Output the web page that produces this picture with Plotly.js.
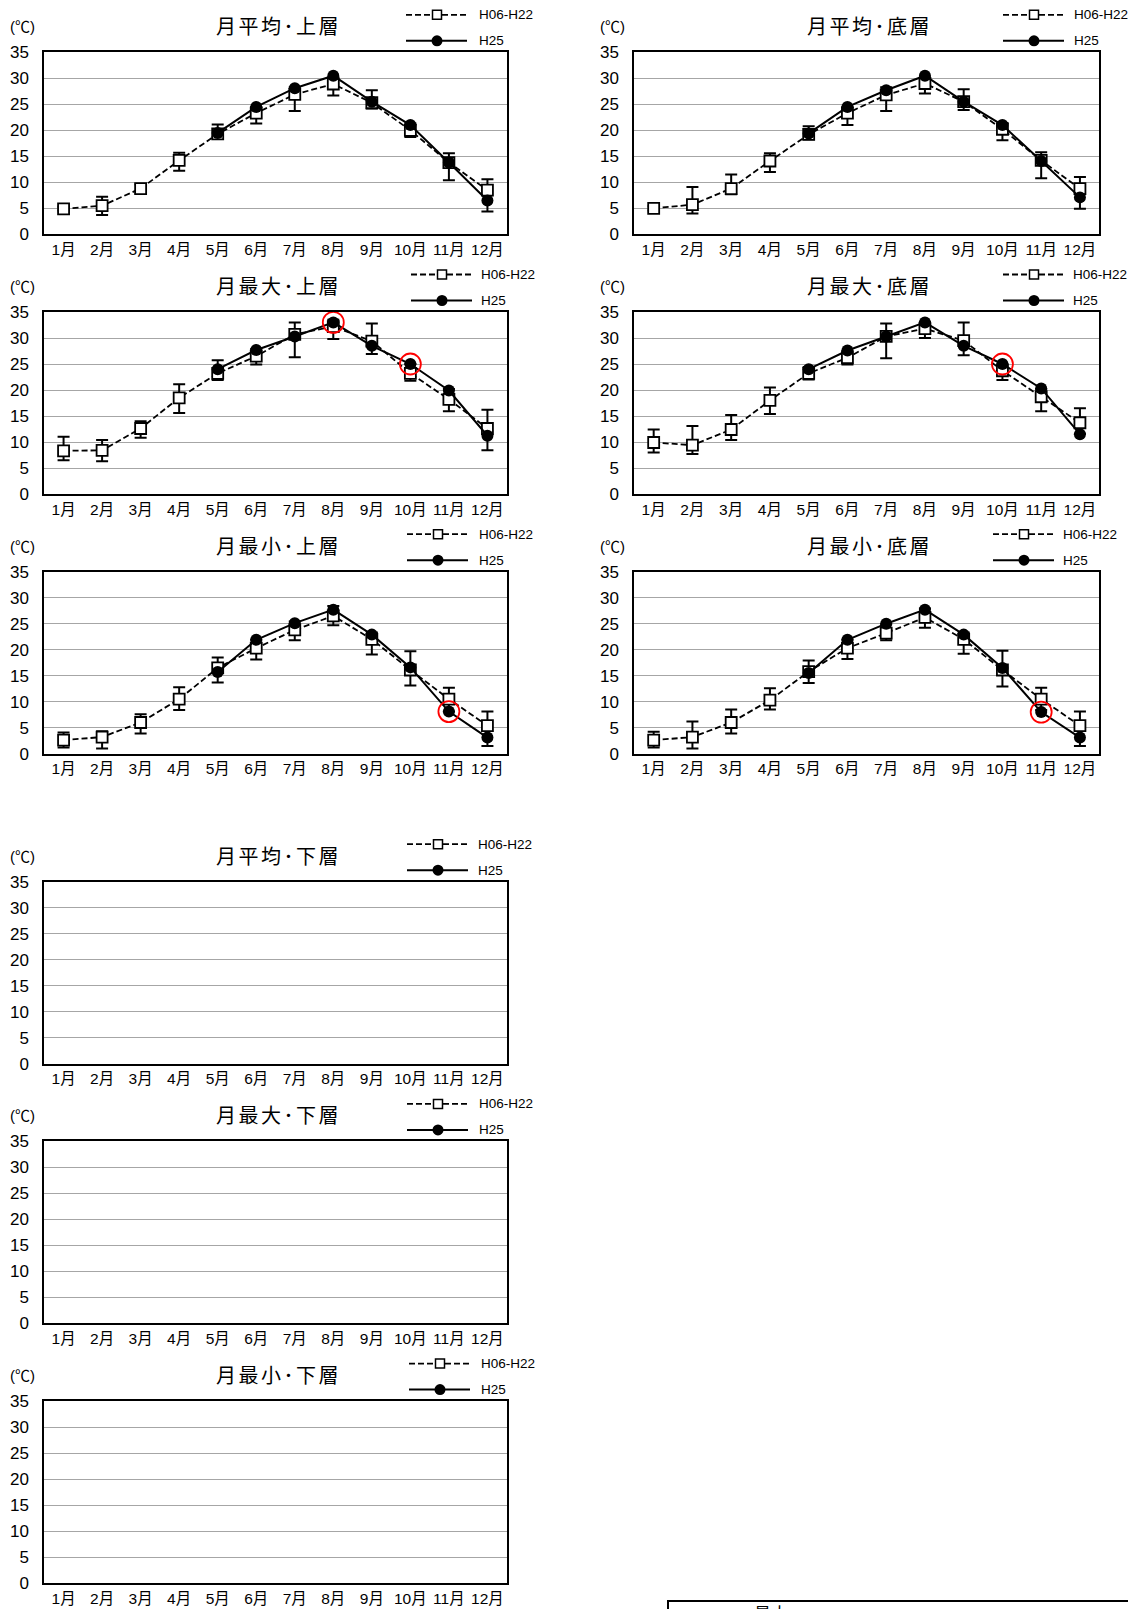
<!DOCTYPE html>
<html><head><meta charset="utf-8">
<script src="https://cdn.plot.ly/plotly-3.0.1.min.js"></script>
<style>html,body{margin:0;padding:0;background:#fff;overflow:hidden}</style>
</head><body><div id="chart" style="width:1128px;height:1609px"></div>
<script>
// ---------- data ----------
const months = ['1月','2月','3月','4月','5月','6月','7月','8月','9月','10月','11月','12月'];
const seriesNames = ['H06-H22', 'H25'];
const unitLabel = '(℃)';

// 月平均・上層
const avgUpperH06    = [4.9, 5.5, 8.8, 14.2, 19.3, 23.3, 26.9, 28.9, 25.3, 20.0, 13.8, 8.5];
const avgUpperH06Max = [5.3, 7.2, 9.6, 15.7, 21.1, 24.5, 28.3, 30.2, 27.7, 21.3, 15.6, 10.6];
const avgUpperH06Min = [4.6, 3.7, 7.9, 12.2, 18.7, 21.3, 23.7, 26.7, 24.2, 18.7, 10.4, 4.4];
const avgUpperH25    = [null, null, null, null, 19.5, 24.5, 28.1, 30.5, 25.5, 21.0, 13.8, 6.5];
const avgUpperMarked = [];

// 月平均・底層
const avgBottomH06    = [5.0, 5.7, 8.8, 14.1, 19.2, 23.3, 26.8, 29.0, 25.5, 20.2, 14.2, 8.8];
const avgBottomH06Max = [5.4, 9.1, 11.5, 15.6, 20.8, 24.5, 28.3, 30.2, 27.9, 21.4, 15.8, 11.0];
const avgBottomH06Min = [4.6, 4.0, 7.7, 12.0, 18.3, 21.0, 23.7, 27.1, 23.9, 18.1, 10.8, 4.9];
const avgBottomH25    = [null, null, null, null, 19.4, 24.5, 27.7, 30.5, 25.5, 21.0, 14.1, 7.1];
const avgBottomMarked = [];

// 月最大・上層
const maxUpperH06    = [8.3, 8.4, 12.6, 18.5, 23.2, 26.5, 30.7, 32.2, 29.4, 23.2, 18.2, 12.6];
const maxUpperH06Max = [11.0, 10.4, 14.0, 21.1, 25.7, 27.9, 33.0, 33.5, 32.8, 25.0, 20.2, 16.2];
const maxUpperH06Min = [6.5, 6.3, 10.8, 15.6, 21.9, 24.9, 26.3, 29.8, 26.9, 21.8, 15.9, 8.4];
const maxUpperH25    = [null, null, null, null, 24.0, 27.7, 30.3, 33.0, 28.5, 25.0, 19.9, 11.2];
const maxUpperMarked = ['8月', '10月'];

// 月最大・底層
const maxBottomH06    = [9.9, 9.4, 12.4, 18.0, 23.2, 26.2, 30.3, 31.8, 29.5, 23.7, 18.7, 13.7];
const maxBottomH06Max = [12.4, 13.1, 15.2, 20.5, 24.4, 27.5, 32.8, 33.1, 33.0, 25.0, 20.2, 16.5];
const maxBottomH06Min = [8.0, 7.7, 10.4, 15.4, 22.0, 24.9, 26.1, 30.0, 26.7, 21.9, 15.9, 11.6];
const maxBottomH25    = [null, null, null, null, 24.0, 27.6, 30.3, 33.0, 28.5, 25.0, 20.3, 11.5];
const maxBottomMarked = ['10月'];

// 月最小・上層
const minUpperH06    = [2.6, 3.2, 6.0, 10.5, 16.5, 20.3, 23.8, 26.5, 22.0, 16.1, 10.5, 5.4];
const minUpperH06Max = [4.1, 4.3, 7.6, 12.8, 18.5, 21.9, 25.4, 28.4, 23.3, 19.7, 12.7, 8.1];
const minUpperH06Min = [1.2, 1.0, 3.9, 8.4, 13.7, 18.1, 21.8, 24.7, 19.1, 13.1, 8.1, 1.5];
const minUpperH25    = [null, null, null, null, 15.7, 21.9, 25.1, 27.7, 22.9, 16.6, 8.1, 3.1];
const minUpperMarked = ['11月'];

// 月最小・底層
const minBottomH06    = [2.6, 3.2, 6.0, 10.3, 15.8, 20.3, 23.2, 26.2, 22.0, 16.1, 10.5, 5.4];
const minBottomH06Max = [4.2, 6.2, 8.5, 12.6, 17.9, 21.9, 24.9, 27.9, 23.3, 19.8, 12.7, 8.1];
const minBottomH06Min = [1.2, 1.0, 3.9, 8.5, 13.6, 18.2, 21.8, 24.2, 19.2, 12.9, 8.4, 1.5];
const minBottomH25    = [null, null, null, null, 15.5, 21.9, 25.0, 27.7, 22.9, 16.5, 8.0, 3.1];
const minBottomMarked = ['11月'];

// 下層 (no data)
const avgLowerH06 = [null, null, null, null, null, null, null, null, null, null, null, null];
const avgLowerH25 = [null, null, null, null, null, null, null, null, null, null, null, null];
const maxLowerH06 = [null, null, null, null, null, null, null, null, null, null, null, null];
const maxLowerH25 = [null, null, null, null, null, null, null, null, null, null, null, null];
const minLowerH06 = [null, null, null, null, null, null, null, null, null, null, null, null];
const minLowerH25 = [null, null, null, null, null, null, null, null, null, null, null, null];

const panelTitles = ['月平均･上層','月平均･底層','月最大･上層','月最大･底層','月最小･上層','月最小･底層','月平均･下層','月最大･下層','月最小･下層'];
const footerLabel = '最大';

// ---------- geometry (pixels) ----------
const W = 1128, H = 1609;
const cols = [[44.3, 506.7], [634.3, 1099.3]];
const rowTops = [52.3, 312.0, 571.7, 881.7, 1141.4, 1401.1];
const plotH = 182;
// panel: [row, col, legendLineStart, legendTextStart]
const geom = [
  [0, 0, 406, 479], [0, 1, 1003, 1074],
  [1, 0, 411, 481], [1, 1, 1003, 1073],
  [2, 0, 407, 479], [2, 1, 993, 1063],
  [3, 0, 407, 478], [4, 0, 407, 479], [5, 0, 409, 481]
];

const panels = [
  {h06: avgUpperH06, hi: avgUpperH06Max, lo: avgUpperH06Min, h25: avgUpperH25, marked: avgUpperMarked},
  {h06: avgBottomH06, hi: avgBottomH06Max, lo: avgBottomH06Min, h25: avgBottomH25, marked: avgBottomMarked},
  {h06: maxUpperH06, hi: maxUpperH06Max, lo: maxUpperH06Min, h25: maxUpperH25, marked: maxUpperMarked},
  {h06: maxBottomH06, hi: maxBottomH06Max, lo: maxBottomH06Min, h25: maxBottomH25, marked: maxBottomMarked},
  {h06: minUpperH06, hi: minUpperH06Max, lo: minUpperH06Min, h25: minUpperH25, marked: minUpperMarked},
  {h06: minBottomH06, hi: minBottomH06Max, lo: minBottomH06Min, h25: minBottomH25, marked: minBottomMarked},
  {h06: avgLowerH06, hi: null, lo: null, h25: avgLowerH25, marked: []},
  {h06: maxLowerH06, hi: null, lo: null, h25: maxLowerH25, marked: []},
  {h06: minLowerH06, hi: null, lo: null, h25: minLowerH25, marked: []}
];

const px = x => x / W;
const py = y => 1 - y / H;

const numFont = 'Liberation Sans Narrow, Arial Narrow, Liberation Sans, Noto Sans CJK JP';
const cjkFont = 'Noto Sans CJK JP, Noto Sans CJK SC, sans-serif';

const data = [];
const layout = {
  width: W, height: H,
  margin: {l: 0, r: 0, t: 0, b: 0, pad: 0},
  paper_bgcolor: '#fff', plot_bgcolor: '#fff',
  showlegend: false,
  font: {family: cjkFont, color: '#000'},
  annotations: [], shapes: []
};

panels.forEach((p, i) => {
  const [row, col, lgLine, lgText] = geom[i];
  const [xl, xr] = cols[col];
  const top = rowTops[row];
  const n = i === 0 ? '' : String(i + 1);
  const xa = 'x' + n, ya = 'y' + n;

  layout['xaxis' + n] = {
    domain: [px(xl), px(xr)], anchor: ya, type: 'category',
    categoryorder: 'array', categoryarray: months, range: [-0.5, 11.5],
    showgrid: false, zeroline: false, showline: true, mirror: true,
    linecolor: '#000', linewidth: 2, ticks: '', ticklabelstandoff: 0,
    tickfont: {family: numFont, size: 15.5, color: '#000'}, fixedrange: true
  };
  layout['yaxis' + n] = {
    domain: [py(top + plotH), py(top)], anchor: xa, range: [0, 35],
    tick0: 0, dtick: 5, showgrid: true, gridcolor: '#a6a6a6', gridwidth: 1,
    zeroline: false, showline: true, mirror: true, linecolor: '#000', linewidth: 2,
    ticks: '', ticklabelstandoff: 10,
    tickfont: {family: numFont, size: 17, color: '#000'}, fixedrange: true
  };

  const h06Trace = {
    type: 'scatter', mode: 'lines+markers', name: seriesNames[0],
    x: months, y: p.h06, xaxis: xa, yaxis: ya,
    line: {color: '#000', width: 1.8, dash: '6px,3px'},
    marker: {symbol: 'square', size: 11, color: '#fff', line: {color: '#000', width: 1.8}},
    cliponaxis: false, hoverinfo: 'skip'
  };
  if (p.hi) {
    h06Trace.error_y = {
      type: 'data', symmetric: false,
      array: p.hi.map((v, k) => v - p.h06[k]),
      arrayminus: p.lo.map((v, k) => p.h06[k] - v),
      color: '#000', thickness: 2, width: 6
    };
  }
  data.push(h06Trace);
  data.push({
    type: 'scatter', mode: 'lines+markers', name: seriesNames[1],
    x: months, y: p.h25, xaxis: xa, yaxis: ya,
    line: {color: '#000', width: 2}, connectgaps: false,
    marker: {symbol: 'circle', size: 12, color: '#000'},
    cliponaxis: false, hoverinfo: 'skip'
  });
  if (p.marked.length) {
    data.push({
      type: 'scatter', mode: 'markers', name: 'marked',
      x: p.marked, y: p.marked.map(m => p.h25[months.indexOf(m)]),
      xaxis: xa, yaxis: ya,
      marker: {symbol: 'circle-open', size: 21, color: '#ff0000', line: {color: '#ff0000', width: 1.8}},
      cliponaxis: false, hoverinfo: 'skip'
    });
  }

  // title
  layout.annotations.push({
    xref: 'paper', yref: 'paper', x: px((xl + xr) / 2 + 3), y: py(top - 26.5),
    xanchor: 'center', yanchor: 'middle', showarrow: false,
    text: '<span style="letter-spacing:2.5px">' + panelTitles[i] + '</span>',
    font: {family: cjkFont, size: 20, color: '#000'}
  });
  // unit
  layout.annotations.push({
    xref: 'paper', yref: 'paper', x: px(xl - 21.5), y: py(top - 25.5),
    xanchor: 'center', yanchor: 'middle', showarrow: false,
    text: unitLabel, font: {family: 'Liberation Sans, ' + cjkFont, size: 15, color: '#000'}
  });

  // legend (drawn keys)
  const y1 = top - 37.5, y2 = top - 11.5, len = 61, mid = lgLine + 31;
  layout.shapes.push(
    {type: 'line', xref: 'paper', yref: 'paper', x0: px(lgLine), x1: px(lgLine + len), y0: py(y1), y1: py(y1),
     line: {color: '#000', width: 1.8, dash: '6px,3px'}},
    {type: 'rect', xref: 'paper', yref: 'paper', x0: px(mid - 4.5), x1: px(mid + 4.5), y0: py(y1 - 4.5), y1: py(y1 + 4.5),
     fillcolor: '#fff', line: {color: '#000', width: 1.5}},
    {type: 'line', xref: 'paper', yref: 'paper', x0: px(lgLine), x1: px(lgLine + len), y0: py(y2), y1: py(y2),
     line: {color: '#000', width: 2}},
    {type: 'circle', xref: 'paper', yref: 'paper', x0: px(mid - 5.5), x1: px(mid + 5.5), y0: py(y2 - 5.5), y1: py(y2 + 5.5),
     fillcolor: '#000', line: {color: '#000', width: 0}}
  );
  layout.annotations.push(
    {xref: 'paper', yref: 'paper', x: px(lgText - 2), y: py(y1), xanchor: 'left', yanchor: 'middle', showarrow: false,
     text: seriesNames[0], font: {family: numFont, size: 13.5, color: '#000'}},
    {xref: 'paper', yref: 'paper', x: px(lgText - 2), y: py(y2), xanchor: 'left', yanchor: 'middle', showarrow: false,
     text: seriesNames[1], font: {family: numFont, size: 13.5, color: '#000'}}
  );
});

// partially visible box at the bottom right (cut by the page edge, as in the source)
layout.shapes.push({type: 'rect', xref: 'paper', yref: 'paper', x0: px(668), x1: px(1140), y0: py(1640), y1: py(1601),
  fillcolor: 'rgba(0,0,0,0)', line: {color: '#000', width: 2}});
layout.annotations.push({xref: 'paper', yref: 'paper', x: px(771), y: py(1613), xanchor: 'center', yanchor: 'middle',
  showarrow: false, text: footerLabel, font: {family: cjkFont, size: 17, color: '#000'}});

Plotly.newPlot('chart', data, layout, {staticPlot: true, displayModeBar: false});
</script>
</body></html>
